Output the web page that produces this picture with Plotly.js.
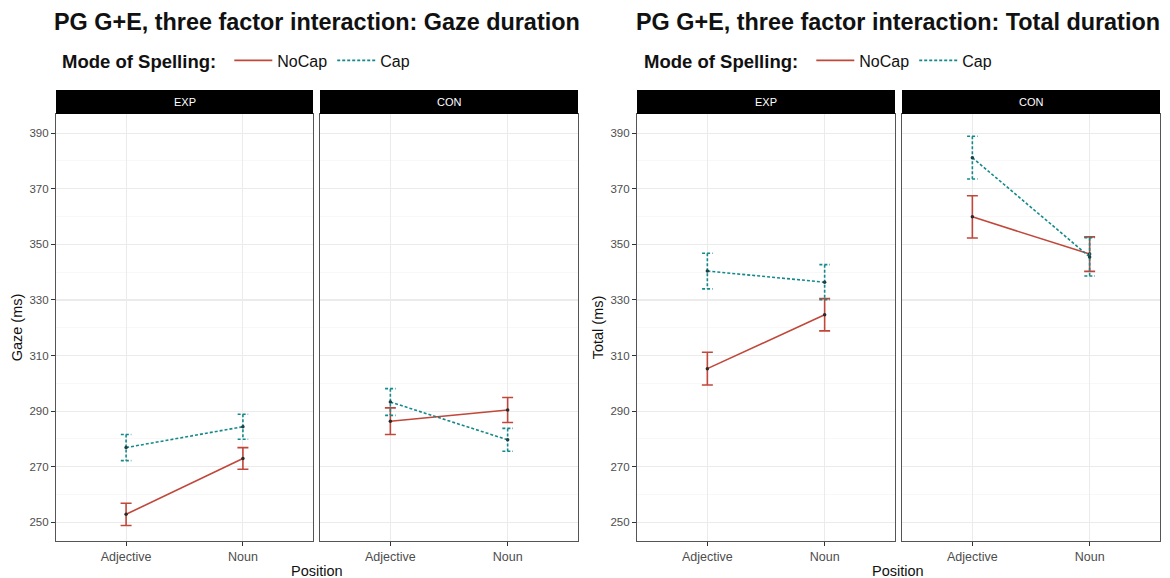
<!DOCTYPE html>
<html>
<head>
<meta charset="utf-8">
<script src="https://cdn.plot.ly/plotly-3.0.1.min.js"></script>
<style>html,body{margin:0;padding:0;background:#fff;}#chart{width:1170px;height:578px;}</style>
</head>
<body>
<div id="chart"></div>
<script>
// ---------- data ----------
const categories = ['Adjective', 'Noun'];
const conditions = ['EXP', 'CON'];
const modes = ['NoCap', 'Cap'];

// Gaze duration (ms): means and error half-widths
const gazeNoCapEXP = [252.9, 273.0];
const gazeNoCapEXPErr = [4.0, 3.9];
const gazeCapEXP = [276.9, 284.4];
const gazeCapEXPErr = [4.7, 4.5];
const gazeNoCapCON = [286.4, 290.4];
const gazeNoCapCONErr = [4.8, 4.5];
const gazeCapCON = [293.3, 279.7];
const gazeCapCONErr = [4.8, 4.1];

// Total duration (ms)
const totalNoCapEXP = [305.3, 324.7];
const totalNoCapEXPErr = [5.9, 5.8];
const totalCapEXP = [340.4, 336.4];
const totalCapEXPErr = [6.4, 6.3];
const totalNoCapCON = [359.9, 346.5];
const totalNoCapCONErr = [7.6, 6.2];
const totalCapCON = [381.2, 345.5];
const totalCapCONErr = [7.7, 6.9];

const yTickVals = [250, 270, 290, 310, 330, 350, 370, 390];

// ---------- style ----------
const W = 1170, H = 578;
const RED = '#C0473A';
const TEAL = '#14898B';
const FONT = 'Liberation Sans, Arial, Helvetica, sans-serif';
const px = v => v / W;
const py = v => 1 - v / H;

const panels = [
  {xa: 'x',  ya: 'y',  legend: 'legend',  cond: 0, noCap: gazeNoCapEXP,  noCapErr: gazeNoCapEXPErr,  cap: gazeCapEXP,  capErr: gazeCapEXPErr,  dom: [56, 313]},
  {xa: 'x2', ya: 'y2', legend: 'legend',  cond: 1, noCap: gazeNoCapCON,  noCapErr: gazeNoCapCONErr,  cap: gazeCapCON,  capErr: gazeCapCONErr,  dom: [320, 578]},
  {xa: 'x3', ya: 'y3', legend: 'legend2', cond: 0, noCap: totalNoCapEXP, noCapErr: totalNoCapEXPErr, cap: totalCapEXP, capErr: totalCapEXPErr, dom: [637, 895]},
  {xa: 'x4', ya: 'y4', legend: 'legend2', cond: 1, noCap: totalNoCapCON, noCapErr: totalNoCapCONErr, cap: totalCapCON, capErr: totalCapCONErr, dom: [902, 1160]}
];

const xIdx = categories.map((c, i) => i);
const capHalf = 0.045;

const traces = [];
panels.forEach((p, k) => {
  const showLeg = (p.cond === 0);
  traces.push({
    type: 'scatter', mode: 'lines', x: xIdx, y: p.noCap, xaxis: p.xa, yaxis: p.ya,
    name: modes[0], legend: p.legend, showlegend: showLeg, legendrank: 1,
    line: {color: RED, width: 1.6}, hoverinfo: 'skip'
  });
  traces.push({
    type: 'scatter', mode: 'lines', x: xIdx, y: p.cap, xaxis: p.xa, yaxis: p.ya,
    name: modes[1], legend: p.legend, showlegend: showLeg, legendrank: 2,
    line: {color: TEAL, width: 1.6, dash: '3px,2px'}, hoverinfo: 'skip'
  });
  traces.push({
    type: 'scatter', mode: 'markers', x: xIdx, y: p.noCap, xaxis: p.xa, yaxis: p.ya,
    showlegend: false, marker: {color: '#2a2a2a', size: 3.5},
    error_y: {type: 'data', array: p.noCapErr, visible: true, color: RED, thickness: 1.6, width: 5.5}
  });
  const ex = [], ey = [];
  xIdx.forEach((xi, i) => {
    const lo = p.cap[i] - p.capErr[i], hi = p.cap[i] + p.capErr[i];
    ex.push(xi - capHalf, xi + capHalf, null, xi, xi, null, xi - capHalf, xi + capHalf, null);
    ey.push(hi, hi, null, hi, lo, null, lo, lo, null);
  });
  traces.push({
    type: 'scatter', mode: 'lines', x: ex, y: ey, xaxis: p.xa, yaxis: p.ya,
    showlegend: false, line: {color: TEAL, width: 1.6, dash: '3px,2px'}, hoverinfo: 'skip'
  });
  traces.push({
    type: 'scatter', mode: 'markers', x: xIdx, y: p.cap, xaxis: p.xa, yaxis: p.ya,
    showlegend: false, marker: {color: '#1f3f40', size: 3.5}
  });
});

const yDom = [py(541), py(114)];
const yRange = [243.3, 396.9];

function xAxis(p) {
  return {
    domain: [px(p.dom[0]), px(p.dom[1])], anchor: p.ya, range: [-0.6, 1.6],
    tickvals: xIdx, ticktext: categories, ticks: 'outside', ticklen: 4, tickcolor: '#333', tickwidth: 1,
    tickfont: {family: FONT, size: 12.5, color: '#4d4d4d'},
    showgrid: true, gridcolor: '#ebebeb', gridwidth: 1.1, zeroline: false,
    showline: true, mirror: true, linecolor: '#555', linewidth: 1.1, fixedrange: true
  };
}
function yAxis(p, labels, title) {
  const a = {
    domain: yDom, anchor: p.xa, range: yRange,
    tickvals: yTickVals, ticks: 'outside', ticklen: 4, tickcolor: '#333', tickwidth: 1,
    showticklabels: labels,
    tickfont: {family: FONT, size: 11.5, color: '#4d4d4d'},
    showgrid: true, gridcolor: '#ebebeb', gridwidth: 1.1, zeroline: false,
    minor: {dtick: 10, tick0: 250, showgrid: true, gridcolor: '#f4f4f4', gridwidth: 0.6, ticks: ''},
    showline: true, mirror: true, linecolor: '#555', linewidth: 1.1, fixedrange: true
  };
  if (title) a.title = {text: title, font: {family: FONT, size: 14.5, color: '#111'}, standoff: 3};
  if (!labels) a.ticks = '';
  return a;
}

function legendCfg(x0) {
  return {
    orientation: 'h', x: px(x0), xanchor: 'left', y: py(61), yanchor: 'middle',
    bgcolor: 'rgba(0,0,0,0)', font: {family: FONT, size: 16, color: '#111'},
    title: {text: '<b>Mode of Spelling:</b> ', side: 'left', font: {family: FONT, size: 18.5, color: '#111'}},
    itemwidth: 38, traceorder: 'normal'
  };
}

const layout = {
  width: W, height: H, autosize: false,
  margin: {l: 0, r: 0, t: 0, b: 0},
  paper_bgcolor: '#fff', plot_bgcolor: '#fff',
  font: {family: FONT, color: '#111'},
  xaxis: xAxis(panels[0]), xaxis2: xAxis(panels[1]), xaxis3: xAxis(panels[2]), xaxis4: xAxis(panels[3]),
  yaxis: yAxis(panels[0], true, 'Gaze (ms)'),
  yaxis2: yAxis(panels[1], false, null),
  yaxis3: yAxis(panels[2], true, 'Total (ms)'),
  yaxis4: yAxis(panels[3], false, null),
  legend: legendCfg(60),
  legend2: legendCfg(642),
  shapes: [],
  annotations: [
    {xref: 'paper', yref: 'paper', x: px(52), y: py(22), xanchor: 'left', yanchor: 'middle', showarrow: false,
     text: '<b>PG G+E, three factor interaction: Gaze duration</b>', font: {family: FONT, size: 23.4, color: '#111'}},
    {xref: 'paper', yref: 'paper', x: px(634), y: py(22), xanchor: 'left', yanchor: 'middle', showarrow: false,
     text: '<b>PG G+E, three factor interaction: Total duration</b>', font: {family: FONT, size: 23.4, color: '#111'}},
    {xref: 'paper', yref: 'paper', x: px(317), y: py(571), xanchor: 'center', yanchor: 'middle', showarrow: false,
     text: 'Position', font: {family: FONT, size: 14.5, color: '#111'}},
    {xref: 'paper', yref: 'paper', x: px(898), y: py(571), xanchor: 'center', yanchor: 'middle', showarrow: false,
     text: 'Position', font: {family: FONT, size: 14.5, color: '#111'}}
  ]
};

panels.forEach(p => {
  const xd = p.xa + ' domain';
  layout.shapes.push({type: 'rect', xref: xd, yref: 'paper', x0: 0, x1: 1, y0: py(114), y1: py(90),
    fillcolor: '#000', line: {width: 0}, layer: 'above'});
  layout.annotations.push({xref: xd, yref: 'paper', x: 0.5, y: py(102), xanchor: 'center', yanchor: 'middle',
    showarrow: false, text: conditions[p.cond], font: {family: FONT, size: 11, color: '#fff'}});
});

Plotly.newPlot('chart', traces, layout, {displayModeBar: false, staticPlot: true});
</script>
</body>
</html>
